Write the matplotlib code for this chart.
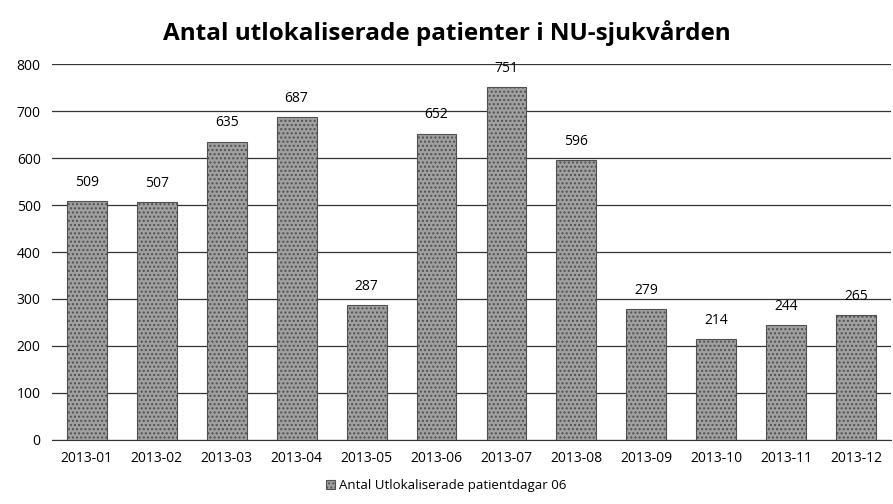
import matplotlib.pyplot as plt
import numpy as np

months = ['2013-01', '2013-02', '2013-03', '2013-04', '2013-05', '2013-06',
          '2013-07', '2013-08', '2013-09', '2013-10', '2013-11', '2013-12']
patients = [509, 507, 635, 687, 287, 652, 751, 596, 279, 214, 244, 265]

plt.rcParams['font.family'] = ['Open Sans', 'DejaVu Sans']

fig = plt.figure(figsize=(8.93, 5.04), dpi=100)
ax = fig.add_axes([0.058, 0.127, 0.94, 0.746])

x = np.arange(len(months))
ax.bar(x, patients, width=0.57, color='#a0a0a0', edgecolor='#505050',
       linewidth=0.8, hatch='....', label='Antal Utlokaliserade patientdagar 06', zorder=3)

# value labels above each bar
for xi, v in zip(x, patients):
    ax.annotate(str(v), (xi, v), xytext=(0, 8), textcoords='offset points',
                ha='center', va='bottom', fontsize=10)

ax.set_xlim(-0.5, len(months) - 0.5)
ax.set_ylim(0, 800)
ax.set_yticks(range(0, 801, 100))
ax.set_xticks(x)
ax.set_xticklabels(months)
ax.tick_params(length=0, labelsize=10, pad=8)
ax.yaxis.grid(True, color='#333333', linewidth=0.9)
ax.set_axisbelow(True)
for s in ['top', 'right', 'left']:
    ax.spines[s].set_visible(False)
ax.spines['bottom'].set_color('#333333')

fig.suptitle('Antal utlokaliserade patienter i NU-sjukvården', fontsize=17.5,
             fontweight='bold', y=0.96)
fig.legend(loc='lower center', bbox_to_anchor=(0.5, 0.0), frameon=False,
           fontsize=9.5, handlelength=0.7, handleheight=0.7, handletextpad=0.3)

plt.savefig('out.png')
